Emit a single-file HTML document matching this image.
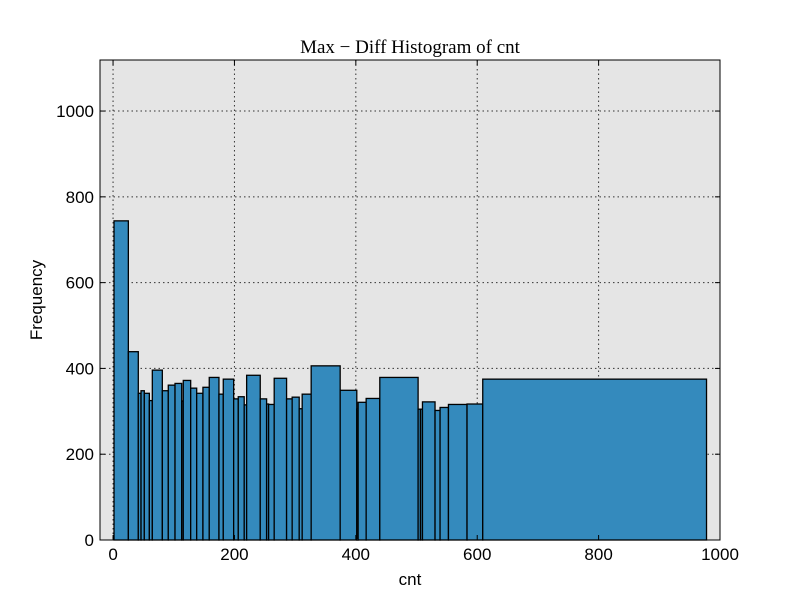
<!DOCTYPE html>
<html><head><meta charset="utf-8"><style>
body{margin:0;background:#fff;}
svg{display:block;font-family:"Liberation Sans",sans-serif;}
</style></head><body>
<svg id="c" width="800" height="600"></svg>
<script>
const binEdges=[1.6,25.2,41.6,46.1,51.5,59.8,64.7,81.2,91.0,102.1,113.1,115.7,127.9,137.8,148.1,158.5,174.5,181.6,198.7,206.3,216.1,220.1,242.5,253.0,256.3,265.5,285.9,295.1,306.7,311.6,326.4,374.2,401.6,403.8,417.0,439.5,502.6,506.5,509.8,530.5,538.8,552.6,583.2,609.1,977.8];
const counts=[744,439,342,348,342,325,396,348,361,365,324,372,354,342,356,379,340,375,329,334,315,384,329,317,316,377,329,333,306,340,406,349,305,321,330,379,305,305,322,302,309,316,317,375];
const xTicks=[0,200,400,600,800,1000];
const yTicks=[0,200,400,600,800,1000];
const L=100,R=720,T=60,B=540,xMin=-21.5,xMax=1000,yMin=0,yMax=1119;
const X=v=>L+(v-xMin)/(xMax-xMin)*(R-L);
const Y=v=>B-(v-yMin)/(yMax-yMin)*(B-T);
const svg=document.getElementById('c');
const NS='http://www.w3.org/2000/svg';
function mk(t,a,p){const e=document.createElementNS(NS,t);for(const k in a)e.setAttribute(k,a[k]);(p||svg).appendChild(e);return e;}
let bg=mk('rect',{x:L,y:T,width:R-L,height:B-T,fill:'#e5e5e5'});


xTicks.forEach(t=>{const g=mk('line',{x1:X(t),x2:X(t),y1:T,y2:B,stroke:'#333','stroke-dasharray':'1.5,3','stroke-width':1});

});
yTicks.forEach(t=>{const g=mk('line',{x1:L,x2:R,y1:Y(t),y2:Y(t),stroke:'#333','stroke-dasharray':'1.5,3','stroke-width':1});

});
counts.forEach((c,i)=>{const x0=X(binEdges[i]),x1=X(binEdges[i+1]);
const r=mk('rect',{x:x0,y:Y(c),width:x1-x0,height:B-Y(c),fill:'#348abd',stroke:'#000','stroke-width':1.3});

});
let fr=mk('rect',{x:L,y:T,width:R-L,height:B-T,fill:'none',stroke:'#000','stroke-width':1});


xTicks.forEach(t=>{mk('line',{x1:X(t),x2:X(t),y1:B,y2:B-5,stroke:'#000'});mk('line',{x1:X(t),x2:X(t),y1:T,y2:T+5,stroke:'#000'});
const tx=mk('text',{x:X(t),y:B+20,'text-anchor':'middle','font-size':17});tx.textContent=t;

});
yTicks.forEach(t=>{mk('line',{x1:L,x2:L+5,y1:Y(t),y2:Y(t),stroke:'#000'});mk('line',{x1:R,x2:R-5,y1:Y(t),y2:Y(t),stroke:'#000'});
const tx=mk('text',{x:L-6,y:Y(t)+6,'text-anchor':'end','font-size':17});tx.textContent=t;

});
let xl=mk('text',{x:410,y:585,'text-anchor':'middle','font-size':17});xl.textContent='cnt';


let yl=mk('text',{x:42,y:300,'text-anchor':'middle','font-size':17,transform:'rotate(-90 42 300)'});yl.textContent='Frequency';


let tt=mk('text',{x:410,y:53,'text-anchor':'middle','font-size':19,'font-family':'"Liberation Serif",serif'});tt.textContent='Max \u2212 Diff Histogram of cnt';


</script>
</body></html>
